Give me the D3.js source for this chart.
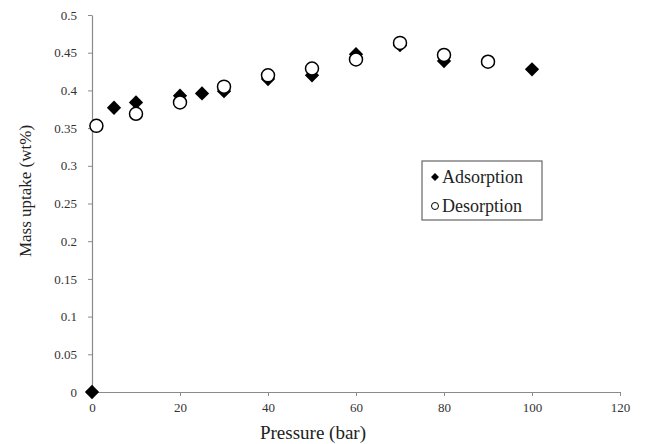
<!DOCTYPE html>
<html>
<head>
<meta charset="utf-8">
<script src="https://cdn.jsdelivr.net/npm/d3@7"></script>
<style>
  body { margin: 0; background: #fff; }
  text { font-family: "Liberation Serif", "Times New Roman", serif; }
</style>
</head>
<body>
<div id="chart"></div>
<script>
// DATA
const adsPressure = [0, 5, 10, 20, 25, 30, 40, 50, 60, 70, 80, 100];
const adsUptake = [0, 0.377, 0.384, 0.393, 0.396, 0.399, 0.415, 0.42, 0.448, 0.46, 0.439, 0.428];
const desPressure = [1, 10, 20, 30, 40, 50, 60, 70, 80, 90];
const desUptake = [0.353, 0.369, 0.384, 0.405, 0.42, 0.429, 0.441, 0.463, 0.447, 0.438];
const xTicks = [0, 20, 40, 60, 80, 100, 120];
const yTicks = [0, 0.05, 0.1, 0.15, 0.2, 0.25, 0.3, 0.35, 0.4, 0.45, 0.5];
const seriesNames = ["Adsorption", "Desorption"];

const width = 651, height = 444;
const margin = { top: 15, right: 31, bottom: 52, left: 92 };

const svg = d3.select("#chart").append("svg")
  .attr("width", width)
  .attr("height", height);

const x = d3.scaleLinear().domain([0, 120]).range([margin.left, width - margin.right]);
const y = d3.scaleLinear().domain([0, 0.5]).range([height - margin.bottom, margin.top]);

// axes
const xAxis = d3.axisBottom(x).tickValues(xTicks).tickSize(4).tickSizeOuter(0).tickPadding(7)
  .tickFormat(d3.format("d"));
const yAxis = d3.axisLeft(y).tickValues(yTicks).tickSize(4).tickSizeOuter(0).tickPadding(11)
  .tickFormat(d => d === 0 ? "0" : d3.format("")(+d.toFixed(2)));

const gx = svg.append("g")
  .attr("transform", `translate(0,${y(0)})`)
  .call(xAxis);
const gy = svg.append("g")
  .attr("transform", `translate(${x(0)},0)`)
  .call(yAxis);

[gx, gy].forEach(g => {
  g.select(".domain").attr("stroke", "#8a8a8a").attr("stroke-width", 1.2);
  g.selectAll(".tick line").attr("stroke", "#8a8a8a");
  g.selectAll(".tick text").attr("fill", "#333").attr("font-size", 13)
    .style("font-family", "'Liberation Serif', serif");
});

// axis titles
svg.append("text")
  .attr("x", 313)
  .attr("y", 439)
  .attr("text-anchor", "middle")
  .attr("font-size", 19)
  .attr("fill", "#222")
  .text("Pressure (bar)");

svg.append("text")
  .attr("transform", "translate(31,191) rotate(-90)")
  .attr("text-anchor", "middle")
  .attr("font-size", 17)
  .attr("fill", "#222")
  .text("Mass uptake (wt%)");

// marks
const diamond = d3.symbol().type(d3.symbolDiamond2).size(130);
const adsData = adsPressure.map((p, i) => ({ p, v: adsUptake[i] }));
const desData = desPressure.map((p, i) => ({ p, v: desUptake[i] }));

svg.append("g").selectAll("path")
  .data(adsData)
  .join("path")
  .attr("d", diamond)
  .attr("transform", d => `translate(${x(d.p)},${y(d.v)})`)
  .attr("fill", "#000");

svg.append("g").selectAll("circle")
  .data(desData)
  .join("circle")
  .attr("cx", d => x(d.p))
  .attr("cy", d => y(d.v))
  .attr("r", 6.5)
  .attr("fill", "#fff")
  .attr("stroke", "#000")
  .attr("stroke-width", 1.5);

// legend
const legend = svg.append("g").attr("transform", "translate(422,161)");
legend.append("rect")
  .attr("width", 120).attr("height", 59)
  .attr("fill", "#fff").attr("stroke", "#666").attr("stroke-width", 1.2);

const items = legend.selectAll("g.item")
  .data(seriesNames)
  .join("g")
  .attr("class", "item")
  .attr("transform", (d, i) => `translate(0,${16 + i * 29})`);

items.filter((d, i) => i === 0).append("path")
  .attr("d", d3.symbol().type(d3.symbolDiamond2).size(40))
  .attr("transform", "translate(13,0)")
  .attr("fill", "#000");
items.filter((d, i) => i === 1).append("circle")
  .attr("cx", 13).attr("r", 3.5)
  .attr("fill", "#fff").attr("stroke", "#000");
items.append("text")
  .attr("x", 20).attr("dy", "0.35em")
  .attr("font-size", 18)
  .attr("fill", "#222")
  .text(d => d);
</script>
</body>
</html>
